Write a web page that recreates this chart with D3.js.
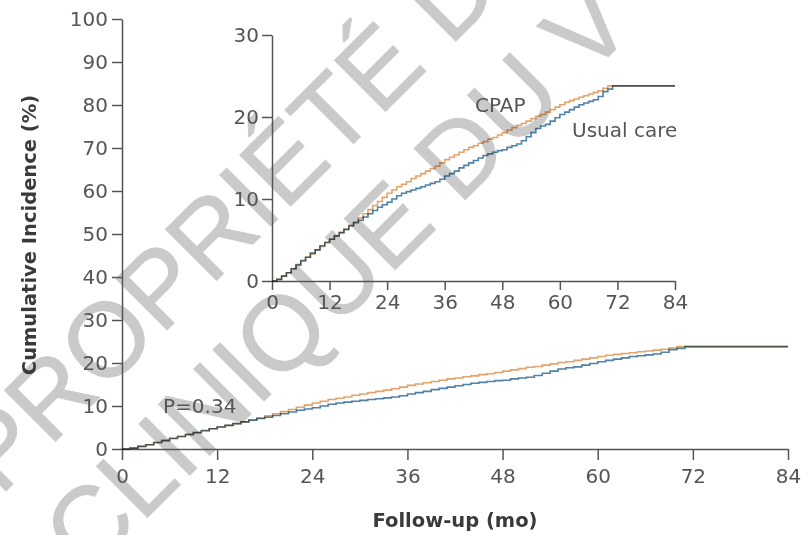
<!DOCTYPE html>
<html>
<head>
<meta charset="utf-8">
<script src="https://cdn.jsdelivr.net/npm/d3@7"></script>
<style>
  body { margin: 0; background: #fff; }
  svg { display: block; }
  .axis path, .axis line { stroke: #555; stroke-width: 1.5; }
  .axis text { font-family: "DejaVu Sans", sans-serif; font-size: 20px; fill: #555; }
  .lbl { font-family: "DejaVu Sans", sans-serif; font-size: 20px; fill: #555; }
  .title { font-family: "DejaVu Sans", sans-serif; font-size: 19.5px; font-weight: bold; fill: #3a3a3a; }
  .wm { font-family: "Liberation Sans", sans-serif; font-size: 105px; fill: #cacaca; stroke: #cacaca; stroke-width: 1; }
  .curve { fill: none; stroke-width: 1.6; mix-blend-mode: multiply; }
</style>
</head>
<body>
<script>
// follow-up months and cumulative incidence (%)
let months = d3.range(0, 72);
let cpap = [0, 0.2, 0.6, 1.0, 1.5, 1.9, 2.4, 2.9, 3.3, 3.8, 4.2, 4.7,
  5.1, 5.5, 5.9, 6.3, 6.8, 7.2, 7.7, 8.2, 8.7, 9.2, 9.7, 10.2,
  10.7, 11.1, 11.5, 11.8, 12.1, 12.5, 12.8, 13.1, 13.4, 13.7, 14.0, 14.4,
  14.8, 15.1, 15.4, 15.7, 16.0, 16.3, 16.5, 16.8, 17.0, 17.3, 17.5, 17.8,
  18.1, 18.4, 18.7, 19.0, 19.2, 19.5, 19.8, 20.1, 20.3, 20.6, 20.9, 21.2,
  21.5, 21.8, 22.0, 22.2, 22.4, 22.6, 22.8, 23.0, 23.2, 23.5, 23.8, 23.8];
let usual = [0, 0.2, 0.6, 1.0, 1.5, 2.0, 2.5, 2.9, 3.4, 3.8, 4.3, 4.7,
  5.1, 5.5, 5.9, 6.3, 6.7, 7.1, 7.4, 7.8, 8.2, 8.6, 9.0, 9.3,
  9.6, 10.0, 10.4, 10.7, 10.9, 11.1, 11.3, 11.5, 11.7, 11.9, 12.1, 12.4,
  12.8, 13.1, 13.4, 13.8, 14.1, 14.4, 14.7, 15.0, 15.3, 15.5, 15.7, 15.9,
  16.0, 16.3, 16.5, 16.7, 17.1, 17.6, 18.1, 18.6, 18.9, 19.1, 19.5, 19.9,
  20.3, 20.6, 20.9, 21.2, 21.5, 21.7, 21.9, 22.1, 22.5, 23.1, 23.4, 23.8];
let lastMonth = 84;

let xTicks = [0, 12, 24, 36, 48, 60, 72, 84];
let yTicksMain = [0, 10, 20, 30, 40, 50, 60, 70, 80, 90, 100];
let yTicksInset = [0, 10, 20, 30];

let series = [
  {name: 'CPAP', values: cpap, color: '#e3a46b'},
  {name: 'Usual care', values: usual, color: '#4f82a6'}
];

let width = 801, height = 535;
let svg = d3.select('body').append('svg')
    .attr('width', width)
    .attr('height', height);

// watermark behind the chart
let wm = svg.append('g').attr('class', 'wm');
wm.append('text').attr('transform', 'translate(0,497) rotate(-45)').text('PROPRIÉTÉ DU V');
wm.append('text').attr('transform', 'translate(88,577) rotate(-45)').text('CLINIQUE DU V');

function toPoints(vals) {
  let pts = vals.map((v, i) => [months[i], v]);
  pts.push([lastMonth, vals[vals.length - 1]]);
  return pts;
}

function drawPanel(g, x, y, yTicks, o) {
  g.append('g')
      .attr('class', 'axis')
      .attr('transform', `translate(0,${y(0)})`)
      .call(d3.axisBottom(x).tickValues(xTicks).tickSize(o.xTick).tickSizeOuter(0).tickPadding(o.xPad));
  g.append('g')
      .attr('class', 'axis')
      .attr('transform', `translate(${x(0)},0)`)
      .call(d3.axisLeft(y).tickValues(yTicks).tickSize(10).tickSizeOuter(0).tickPadding(o.yPad));

  let line = d3.line()
      .curve(d3.curveStepAfter)
      .x(d => x(d[0]))
      .y(d => y(d[1]));

  g.selectAll('.curve')
    .data(series)
    .enter().append('path')
      .attr('class', 'curve')
      .attr('stroke', d => d.color)
      .attr('d', d => line(toPoints(d.values)));
}

// main panel
let x = d3.scaleLinear().domain([0, 84]).range([122, 788]);
let y = d3.scaleLinear().domain([0, 100]).range([449, 19]);
drawPanel(svg.append('g'), x, y, yTicksMain, {xTick: 11, xPad: 9, yPad: 4});

// inset
let xi = d3.scaleLinear().domain([0, 84]).range([272, 675]);
let yi = d3.scaleLinear().domain([0, 30]).range([281, 35]);
drawPanel(svg.append('g'), xi, yi, yTicksInset, {xTick: 9, xPad: 5, yPad: 3});

svg.selectAll('.axis .domain').attr('stroke', '#555');
svg.selectAll('.axis text').attr('fill', '#555');

// labels
svg.append('text').attr('class', 'lbl').attr('x', 475).attr('y', 112).text('CPAP');
svg.append('text').attr('class', 'lbl').attr('x', 572).attr('y', 137).text('Usual care');
svg.append('text').attr('class', 'lbl').attr('x', 163).attr('y', 413).text('P=0.34');

svg.append('text')
    .attr('class', 'title')
    .attr('text-anchor', 'middle')
    .attr('transform', 'translate(36,235) rotate(-90)')
    .text('Cumulative Incidence (%)');
svg.append('text')
    .attr('class', 'title')
    .attr('text-anchor', 'middle')
    .attr('x', 455)
    .attr('y', 527)
    .text('Follow-up (mo)');
</script>
</body>
</html>
